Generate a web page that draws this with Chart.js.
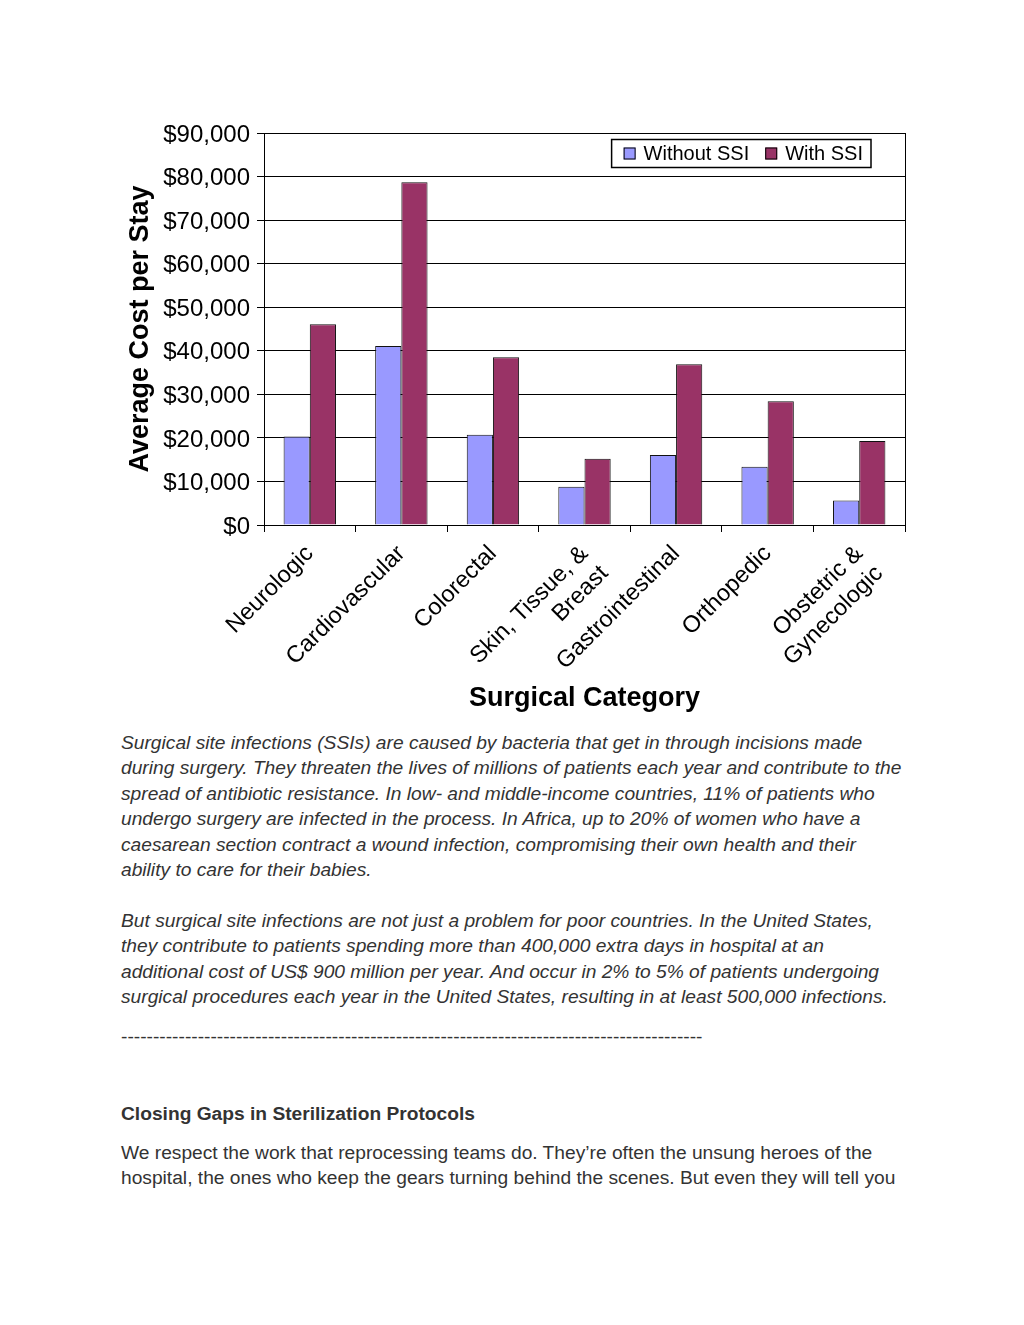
<!DOCTYPE html>
<html><head><meta charset="utf-8">
<script src="https://cdn.jsdelivr.net/npm/chart.js@4.4.1/dist/chart.umd.min.js"></script>
<style>
html,body{margin:0;padding:0;background:#fff;}
body{width:1024px;height:1325px;position:relative;overflow:hidden;font-family:"Liberation Sans",Arial,sans-serif;}
#wrap{position:absolute;left:0;top:0;width:1024px;height:720px;}
.t{position:absolute;left:121px;color:#333;white-space:nowrap;font-size:19.2px;line-height:25.4px;}
.i{font-style:italic;}
.b{font-weight:bold;}
</style></head><body>
<div id="wrap"><canvas id="c" width="1024" height="720"></canvas></div>

<div class="t i" style="top:730px">Surgical site infections (SSIs) are caused by bacteria that get in through incisions made<br>during surgery. They threaten the lives of millions of patients each year and contribute to the<br>spread of antibiotic resistance. In low- and middle-income countries, 11% of patients who<br>undergo surgery are infected in the process. In Africa, up to 20% of women who have a<br>caesarean section contract a wound infection, compromising their own health and their<br>ability to care for their babies.</div>
<div class="t i" style="top:908px">But surgical site infections are not just a problem for poor countries. In the United States,<br>they contribute to patients spending more than 400,000 extra days in hospital at an<br>additional cost of US$ 900 million per year. And occur in 2% to 5% of patients undergoing<br>surgical procedures each year in the United States, resulting in at least 500,000 infections.</div>
<div class="t" style="top:1024px">-------------------------------------------------------------------------------------------</div>
<div class="t b" style="top:1101px">Closing Gaps in Sterilization Protocols</div>
<div class="t" style="top:1140px">We respect the work that reprocessing teams do. They’re often the unsung heroes of the<br>hospital, the ones who keep the gears turning behind the scenes. But even they will tell you</div>

<script>
const categories = ['Neurologic', 'Cardiovascular', 'Colorectal', ['Skin, Tissue, &', 'Breast'], 'Gastrointestinal', 'Orthopedic', ['Obstetric &', 'Gynecologic']];
const seriesNames = ['Without SSI', 'With SSI'];
const withoutSSI = [20300, 41100, 20700, 8800, 16100, 13400, 5600];
const withSSI = [46100, 78700, 38500, 15200, 36900, 28400, 19300];
const yTicks = [0, 10000, 20000, 30000, 40000, 50000, 60000, 70000, 80000, 90000];

const FONT = '"Liberation Sans", Arial, sans-serif';

const boxLegend = {
  id: 'boxLegend',
  afterDraw(chart) {
    const ctx = chart.ctx, a = chart.chartArea;
    ctx.save();
    ctx.font = '20px ' + FONT;
    const pad = 12, mk = 12, gapText = 8, gapItem = 16, padR = 8;
    const items = chart.data.datasets.map(d => ({label: d.label, color: d.backgroundColor, w: ctx.measureText(d.label).width}));
    let total = pad;
    items.forEach((it, i) => { total += mk + gapText + it.w + (i < items.length - 1 ? gapItem : 0); });
    total += padR;
    const right = a.right - 34, top = a.top + 6.5, h = 28;
    const left = right - total;
    ctx.fillStyle = '#fff';
    ctx.fillRect(left, top, total, h);
    ctx.strokeStyle = '#000';
    ctx.lineWidth = 1.5;
    ctx.strokeRect(left, top, total, h);
    let x = left + pad;
    const cy = top + h / 2;
    items.forEach((it, i) => {
      ctx.fillStyle = it.color;
      ctx.fillRect(x, cy - 6, mk, mk);
      ctx.lineWidth = 1;
      ctx.strokeStyle = '#000';
      ctx.strokeRect(x + 0.5, cy - 5.5, mk - 1, mk - 1);
      x += mk + gapText;
      ctx.fillStyle = '#000';
      ctx.textBaseline = 'middle';
      ctx.textAlign = 'left';
      ctx.fillText(it.label, x, cy + 1);
      x += it.w + gapItem;
    });
    ctx.restore();
  }
};

new Chart(document.getElementById('c'), {
  type: 'bar',
  data: {
    labels: categories,
    datasets: [
      {label: seriesNames[0], data: withoutSSI, backgroundColor: '#9999FF', borderColor: '#111', borderWidth: 1},
      {label: seriesNames[1], data: withSSI, backgroundColor: '#993366', borderColor: '#111', borderWidth: 1}
    ]
  },
  options: {
    responsive: false,
    animation: false,
    layout: {padding: {left: 0, right: 119, top: 133, bottom: 0}},
    plugins: {legend: {display: false}, tooltip: {enabled: false}},
    datasets: {bar: {categoryPercentage: 0.572, barPercentage: 1}},
    scales: {
      x: {
        afterFit(s) { s.height = 195; },
        border: {display: true, color: '#000', width: 1},
        grid: {
          offset: true,
          drawOnChartArea: true,
          drawTicks: true,
          tickLength: 7,
          tickColor: '#000',
          color: ctx => ctx.type !== 'tick' ? '#000' : 'rgba(0,0,0,0)',
          lineWidth: 1
        },
        ticks: {
          color: '#000',
          font: {family: FONT, size: 23.5},
          maxRotation: 45, minRotation: 45,
          autoSkip: false,
          padding: 8
        },
        title: {
          display: true, text: 'Surgical Category', color: '#000',
          font: {family: FONT, size: 27, weight: 'bold'},
          padding: {top: 0, bottom: 5}
        }
      },
      y: {
        min: 0, max: 90000,
        afterFit(s) { s.width = 264; },
        afterBuildTicks(s) { s.ticks = yTicks.map(v => ({value: v})); },
        border: {display: true, color: '#000', width: 1},
        grid: {color: '#000', lineWidth: 1, tickLength: 7, tickColor: '#000', drawTicks: true},
        ticks: {
          color: '#000',
          font: {family: FONT, size: 24},
          padding: 7,
          labelOffset: 2,
          callback: v => '$' + Number(v).toLocaleString('en-US')
        },
        title: {
          display: true, text: 'Average Cost per Stay', color: '#000',
          font: {family: FONT, size: 27, weight: 'bold'},
          padding: {top: 124, bottom: 0}
        }
      }
    }
  },
  plugins: [boxLegend]
});
</script>
</body></html>
